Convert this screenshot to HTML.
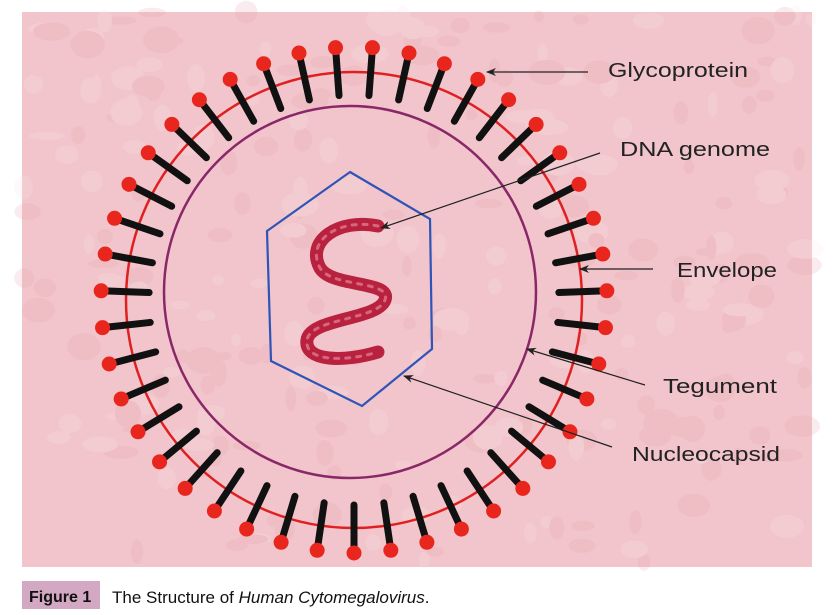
<!DOCTYPE html>
<html><head><meta charset="utf-8"><style>
html,body{margin:0;padding:0;background:#fff;width:833px;height:615px;overflow:hidden}
svg{display:block}
</style></head><body>
<svg id="s" width="833" height="615" viewBox="0 0 833 615" xmlns="http://www.w3.org/2000/svg">
<defs>
<marker id="ah" markerWidth="10" markerHeight="8" refX="9" refY="4" orient="auto" markerUnits="userSpaceOnUse">
<path d="M0,0 L10,4 L0,8 L3,4 Z" fill="#222"/>
</marker>
</defs>
<rect x="22" y="12" width="790" height="555" fill="#f1c5cb"/>
<g id="tex" opacity="0.22"></g>
<circle cx="354" cy="300" r="228" fill="none" stroke="#e02020" stroke-width="2.5"/>
<circle cx="350" cy="292" r="186" fill="none" stroke="#8a2768" stroke-width="2.5"/>
<g id="spikes"></g>
<polygon points="350,172 430,219 432,349 362,406 271,361 267,231" fill="none" stroke="#2f54b8" stroke-width="2.2"/>
<g fill="none" stroke-linecap="round">
<path d="M378,226 C340,218 305,240 320,268 C332,288 392,280 385,300 C378,320 310,318 307,340 C304,362 345,362 378,352" stroke="#b8223f" stroke-width="13"/>
<path d="M378,226 C340,218 305,240 320,268 C332,288 392,280 385,300 C378,320 310,318 307,340 C304,362 345,362 378,352" stroke="#d9667f" stroke-width="3" stroke-dasharray="4 7"/>
</g>
<g stroke="#222" stroke-width="1.2" marker-end="url(#ah)">
<line x1="588" y1="72" x2="487" y2="72"/>
<line x1="600" y1="153" x2="381" y2="228"/>
<line x1="653" y1="269" x2="580" y2="269"/>
<line x1="645" y1="385" x2="527" y2="349"/>
<line x1="612" y1="447" x2="404" y2="376"/>
</g>
<g font-family="Liberation Sans, sans-serif" font-size="20" fill="#222">
<text x="608" y="77" textLength="140" lengthAdjust="spacingAndGlyphs">Glycoprotein</text>
<text x="620" y="156" textLength="150" lengthAdjust="spacingAndGlyphs">DNA genome</text>
<text x="677" y="277" textLength="100" lengthAdjust="spacingAndGlyphs">Envelope</text>
<text x="663" y="393" textLength="114" lengthAdjust="spacingAndGlyphs">Tegument</text>
<text x="632" y="461" textLength="148" lengthAdjust="spacingAndGlyphs">Nucleocapsid</text>
</g>
<rect x="22" y="581" width="78" height="28" fill="#d3a8c3"/>
<text x="29" y="602" font-family="Liberation Sans, sans-serif" font-size="16" font-weight="bold" fill="#111">Figure 1</text>
<text x="112" y="603" font-family="Liberation Sans, sans-serif" font-size="17" fill="#111">The Structure of <tspan font-style="italic">Human Cytomegalovirus</tspan>.</text>
</svg>
<script>
(function(){
var ns="http://www.w3.org/2000/svg",g=document.getElementById("spikes"),cx=354,cy=300,N=43;
for(var i=0;i<N;i++){var a=(i/N)*2*Math.PI+Math.PI/2;var c=Math.cos(a),s=Math.sin(a);
var l=document.createElementNS(ns,"line");l.setAttribute("x1",cx+205*c);l.setAttribute("y1",cy+205*s);
l.setAttribute("x2",cx+246*c);l.setAttribute("y2",cy+246*s);l.setAttribute("stroke","#111");l.setAttribute("stroke-width","7");l.setAttribute("stroke-linecap","round");g.appendChild(l);
var d=document.createElementNS(ns,"circle");d.setAttribute("cx",cx+253*c);d.setAttribute("cy",cy+253*s);d.setAttribute("r","7.5");d.setAttribute("fill","#e8261e");g.appendChild(d);}
var t=document.getElementById("tex");var seed=7;function r(){seed=(seed*9301+49297)%233280;return seed/233280;}
for(var k=0;k<260;k++){var e=document.createElementNS(ns,"ellipse");e.setAttribute("cx",22+r()*790);e.setAttribute("cy",12+r()*555);e.setAttribute("rx",5+r()*14);e.setAttribute("ry",4+r()*10);e.setAttribute("fill",r()>0.5?"#fbe6e9":"#e9a9b3");t.appendChild(e);}
})();
</script>
</body></html>
